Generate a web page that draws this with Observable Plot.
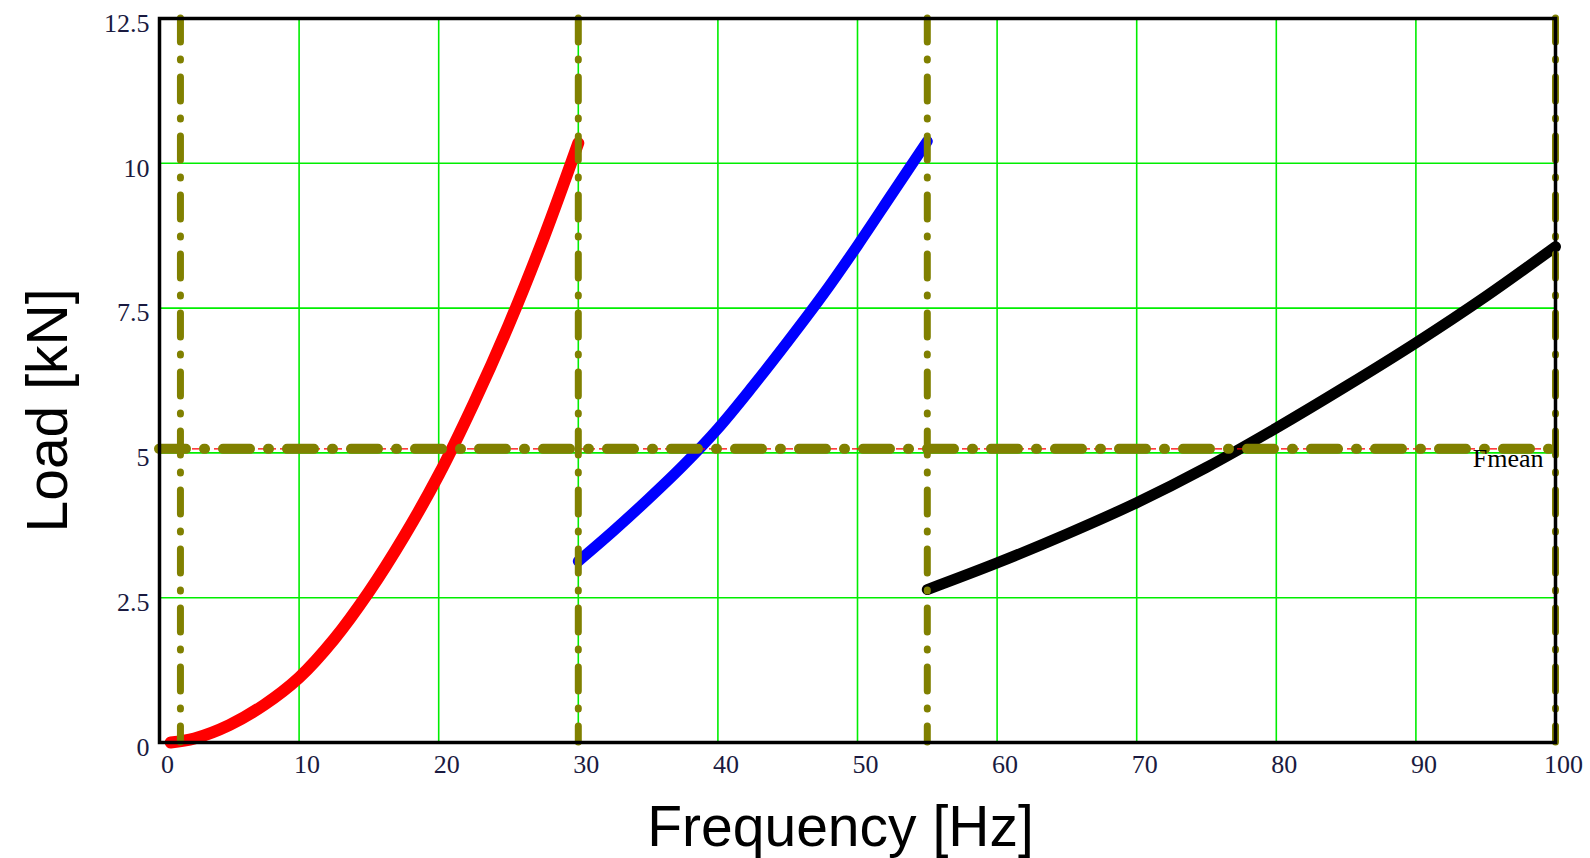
<!DOCTYPE html>
<html>
<head>
<meta charset="utf-8">
<script src="https://cdn.jsdelivr.net/npm/d3@7"></script>
<script src="https://cdn.jsdelivr.net/npm/@observablehq/plot@0.6"></script>
<style>
  html, body { margin: 0; padding: 0; background: #fff; }
  #chart { width: 1590px; height: 858px; }
</style>
</head>
<body>
<div id="chart"></div>
<script>
// ---- data ----
const redF = [0.8, 2.5, 5, 7.5, 10, 12.5, 15, 17.5, 20, 22.5, 25, 27.5, 30];
const redLoad = [0.0, 0.07, 0.3, 0.65, 1.12, 1.78, 2.6, 3.55, 4.62, 5.85, 7.2, 8.7, 10.35];
const blueF = [30, 32.5, 35, 37.5, 40, 42.5, 45, 47.5, 50, 52.5, 55];
const blueLoad = [3.13, 3.65, 4.2, 4.78, 5.42, 6.15, 6.92, 7.72, 8.58, 9.48, 10.38];
const blackF = [55, 60, 65, 70, 75, 80, 85, 90, 95, 100];
const blackLoad = [2.64, 3.1, 3.6, 4.14, 4.75, 5.43, 6.15, 6.9, 7.7, 8.56];
const limitF = [1.5, 30, 55, 100];
const fmean = 5.07;
const fmeanLabel = "Fmean";
const xTicks = [0, 10, 20, 30, 40, 50, 60, 70, 80, 90, 100];
const yTicks = [0, 2.5, 5, 7.5, 10, 12.5];
const xLabel = "Frequency [Hz]";
const yLabel = "Load [kN]";

const toRows = (xs, ys) => xs.map((x, i) => ({x, y: ys[i]}));
const red = toRows(redF, redLoad);
const blue = toRows(blueF, blueLoad);
const black = toRows(blackF, blackLoad);

const olive = "#808000";
const tickColor = "#1a1a40";
const serif = "'Liberation Serif', 'DejaVu Serif', serif";
const sans = "'Liberation Sans', Arial, sans-serif";

const chart = Plot.plot({
  width: 1590,
  height: 858,
  marginLeft: 159,
  marginRight: 35,
  marginTop: 18,
  marginBottom: 116,
  style: {background: "#fff", overflow: "visible"},
  x: {domain: [0, 100]},
  y: {domain: [0, 12.5]},
  marks: [
    Plot.gridX(xTicks.slice(1, -1), {stroke: "#00ee00", strokeOpacity: 1, strokeWidth: 1.6}),
    Plot.gridY(yTicks.slice(1, -1), {stroke: "#00ee00", strokeOpacity: 1, strokeWidth: 1.6}),
    Plot.axisX(xTicks, {tickSize: 0, tickPadding: 12, dx: 8, label: null,
      fontFamily: serif, fontSize: 26, fill: tickColor, tickFormat: d => String(d)}),
    Plot.axisY(yTicks, {tickSize: 0, tickPadding: 10, dy: 5, label: null,
      fontFamily: serif, fontSize: 26, fill: tickColor, tickFormat: d => String(d)}),
    Plot.line(red, {x: "x", y: "y", stroke: "#ff0000", strokeWidth: 12, curve: "catmull-rom", strokeLinecap: "round"}),
    Plot.line(blue, {x: "x", y: "y", stroke: "#0000ff", strokeWidth: 11, curve: "catmull-rom", strokeLinecap: "round"}),
    Plot.line(black, {x: "x", y: "y", stroke: "#000000", strokeWidth: 11, curve: "catmull-rom", strokeLinecap: "round"}),
    Plot.ruleY([fmean], {stroke: "#ff0000", strokeWidth: 1.2, strokeDasharray: "7,4"}),
    Plot.ruleY([fmean], {stroke: olive, strokeWidth: 10, strokeDasharray: "27,18,1,18", strokeLinecap: "round"}),
    Plot.ruleX(limitF, {stroke: olive, strokeWidth: 7, strokeDasharray: "24,17,1,17", strokeLinecap: "round"}),
    Plot.frame({stroke: "#000", strokeWidth: 3.5}),
    Plot.text([fmeanLabel], {x: () => 100, y: () => fmean, text: d => d, textAnchor: "end", dx: -12, dy: 10,
      fontFamily: serif, fontSize: 26, fill: "#000"}),
    Plot.text([xLabel], {frameAnchor: "bottom", text: d => d, dx: -17, dy: 103,
      fontFamily: sans, fontSize: 57, fill: "#000"}),
    Plot.text([yLabel], {frameAnchor: "left", text: d => d, textAnchor: "middle", dx: -111, dy: 30, rotate: -90,
      fontFamily: sans, fontSize: 57, fill: "#000"})
  ]
});
document.getElementById("chart").appendChild(chart);
</script>
</body>
</html>
